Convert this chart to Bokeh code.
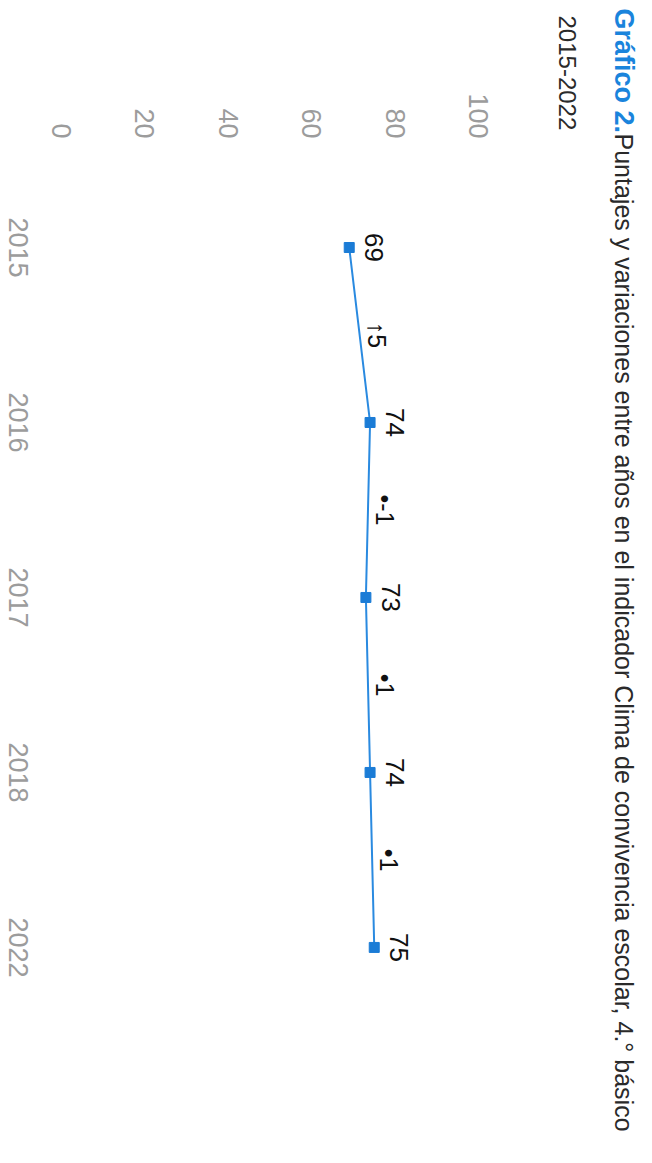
import math
from bokeh.plotting import figure
from bokeh.layouts import row
from bokeh.models import ColumnDataSource, Range1d, FixedTicker, Label
from bokeh.core.properties import value
from bokeh.embed import file_html
from bokeh.resources import INLINE

# ---- data ----
years = ["2015", "2016", "2017", "2018", "2022"]
scores = [69, 74, 73, 74, 75]
variations = [5, -1, 1, 1]
variation_marks = ["↑", "•", "•", "•"]
value_ticks = [0, 20, 40, 60, 80, 100]

title_bold = "Gráfico 2."
title_rest = "Puntajes y variaciones entre años en el indicador Clima de convivencia escolar, 4.° básico"
subtitle = "2015-2022"

# ---- derived ----
pos = list(range(len(years)))
mid_pos = [(a + b) / 2 for a, b in zip(pos[:-1], pos[1:])]
mid_val = [(a + b) / 2 for a, b in zip(scores[:-1], scores[1:])]
var_text = [m + str(v) for m, v in zip(variation_marks, variations)]

src = ColumnDataSource(dict(score=scores, pos=pos, label=[str(s) for s in scores]))
vsrc = ColumnDataSource(dict(x=mid_val, y=mid_pos, label=var_text))

FONT = "'Liberation Sans', Arial, sans-serif"
BLUE = "#2a8ae0"
ROT = -math.pi / 2
H = 1155
TOP = 138

y_range = Range1d(5.189, -0.623)

def style_axis(ax, size):
    ax.axis_line_color = None
    ax.major_tick_line_color = None
    ax.minor_tick_line_color = None
    ax.major_tick_out = 0
    ax.major_tick_in = 0
    ax.major_label_standoff = 0
    ax.major_label_text_font = FONT
    ax.major_label_text_font_size = size
    ax.major_label_text_color = "#9c9c9c"

# ---- left strip: year axis (labels read top-to-bottom, centred on ticks) ----
yfig = figure(width=40, height=H, output_backend="svg", toolbar_location=None,
              x_range=Range1d(0, 1), y_range=y_range,
              x_axis_location=None, y_axis_location="right",
              min_border_left=0, min_border_right=32, min_border_top=TOP, min_border_bottom=0)
yfig.outline_line_color = None
yfig.grid.visible = False
style_axis(yfig.yaxis[0], "27px")
yfig.yaxis.ticker = FixedTicker(ticks=pos)
yfig.yaxis.major_label_overrides = {i: y for i, y in zip(pos, years)}
yfig.yaxis.major_label_orientation = "parallel"

# ---- main chart ----
p = figure(width=510, height=H, output_backend="svg", toolbar_location=None,
           x_range=Range1d(-5.036, 117.27), y_range=y_range,
           x_axis_location="above", y_axis_location=None,
           min_border_left=0, min_border_top=TOP, min_border_right=0, min_border_bottom=0)
p.outline_line_color = None
p.xgrid.visible = False
p.ygrid.visible = False
style_axis(p.xaxis[0], "27px")
p.xaxis.ticker = FixedTicker(ticks=value_ticks)
p.xaxis.major_label_orientation = ROT

p.line(x="score", y="pos", source=src, line_color=BLUE, line_width=2)
p.scatter(x="score", y="pos", source=src, marker="square", size=10,
          fill_color="#1b7cd6", line_color="#1b7cd6")

p.text(x="score", y="pos", text="label", source=src, angle=ROT, x_offset=25,
       text_align="center", text_baseline="middle", text_font=value(FONT),
       text_font_size="26px", text_color="#111111")
p.text(x="x", y="y", text="label", source=vsrc, angle=ROT, x_offset=17,
       text_align="center", text_baseline="middle", text_font=value(FONT),
       text_font_size="25px", text_color="#111111")

# ---- right strip: title, reading top-to-bottom ----
tfig = figure(width=94, height=H, output_backend="svg", toolbar_location=None,
              x_range=Range1d(550, 644), y_range=Range1d(H, 0),
              x_axis_location=None, y_axis_location=None,
              min_border_left=0, min_border_right=0, min_border_top=0, min_border_bottom=0)
tfig.frame_align = False
tfig.outline_line_color = None
tfig.grid.visible = False

tfig.add_layout(Label(x=623, y=8, text=title_bold, angle=ROT,
                      text_align="left", text_baseline="middle",
                      text_font=FONT, text_font_size="27px",
                      text_font_style="bold", text_color="#1a84dc"))
tfig.add_layout(Label(x=623, y=133, text=title_rest, angle=ROT,
                      text_align="left", text_baseline="middle",
                      text_font=FONT, text_font_size="25px", text_color="#2a2a2a"))
tfig.add_layout(Label(x=567, y=15, text=subtitle, angle=ROT,
                      text_align="left", text_baseline="middle",
                      text_font=FONT, text_font_size="24px", text_color="#2a2a2a"))

layout = row(yfig, p, tfig)
open("out.html", "w").write(file_html(layout, INLINE))
